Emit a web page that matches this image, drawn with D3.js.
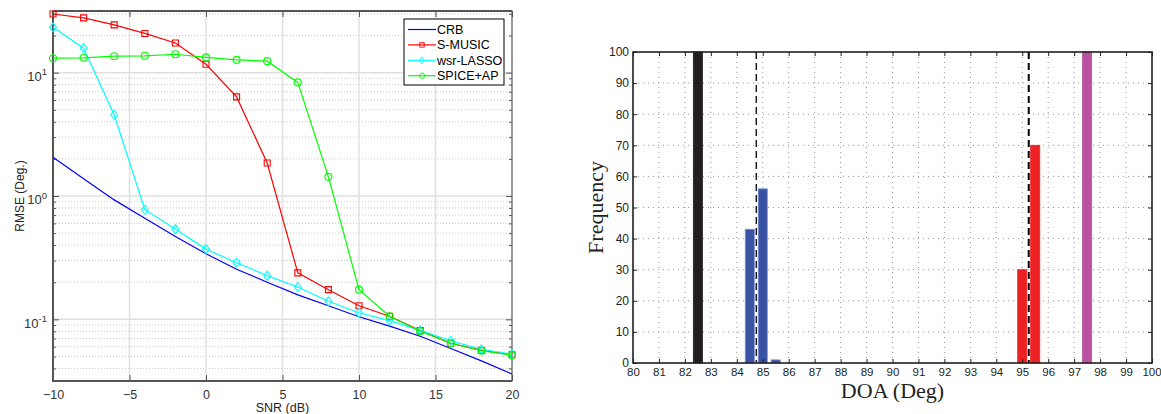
<!DOCTYPE html>
<html>
<head>
<meta charset="utf-8">
<script src="https://cdn.jsdelivr.net/npm/d3@7"></script>
<style>
body { margin: 0; background: #fff; }
svg { display: block; }
</style>
</head>
<body>
<div id="canvas"></div>
<script>
// DATA ========================================================================

var SNR = [-10, -8, -6, -4, -2, 0, 2, 4, 6, 8, 10, 12, 14, 16, 18, 20]

var CRB = [2.06, 1.38, 0.93, 0.66, 0.47, 0.34, 0.255, 0.2, 0.158, 0.129, 0.105, 0.088, 0.073, 0.058, 0.046, 0.036]

var S_MUSIC = [29.9, 27.8, 24.4, 20.8, 17.4, 11.7, 6.36, 1.85, 0.238, 0.174, 0.129, 0.106, 0.081, 0.064, 0.056, 0.0516]

var WSR_LASSO = [23.3, 15.8, 4.54, 0.774, 0.539, 0.371, 0.288, 0.226, 0.183, 0.140, 0.113, 0.0975, 0.0813, 0.067, 0.057, 0.0523]

var SPICE_AP = [13.1, 13.2, 13.6, 13.7, 14.1, 13.3, 12.7, 12.4, 8.34, 1.43, 0.174, 0.106, 0.080, 0.064, 0.0556, 0.0513]

var SERIES_NAMES = ["CRB", "S-MUSIC", "wsr-LASSO", "SPICE+AP"]

var SNR_TICKS = [-10, -5, 0, 5, 10, 15, 20]

var DOA_TICKS = d3.range(80, 101)

var FREQ_TICKS = [0, 10, 20, 30, 40, 50, 60, 70, 80, 90, 100]

var BAR_DOA = [82.5, 84.5, 85, 85.5, 95, 95.5, 97.5]

var BAR_FREQ = [100, 43, 56, 1, 30, 70, 100]

var BAR_GROUP = ["g0", "g1", "g1", "g1", "g2", "g2", "g3"]

var TRUE_DOA = [84.75, 95.25]

// STYLE =======================================================================

var SANS = "'Liberation Sans', Arial, sans-serif"
var SERIF = "'Liberation Serif', 'Times New Roman', serif"

var LINE_COLORS = ["#0000ff", "#ff0000", "#00ffff", "#00ff00"]
var MARKERS = [null, "square", "diamond", "circle"]

var BAR_COLORS = { "g0": "#231f20", "g1": "#3953a4", "g2": "#ed2024", "g3": "#b9529f" }
var BAR_EDGES = { "g0": "#231f20", "g1": "#7d90cf", "g2": "#ed2024", "g3": "#b9529f" }

// -----------------------------------------------------------------------------

var svg = d3.select("#canvas").append("svg")
    .attr("width", 1161)
    .attr("height", 414)

function translate(x, y) {
    return "translate(" + x + "," + y + ")"
}

function marker(type) {
    if (type === "square") { return "M-3,-3H3V3H-3Z" }
    if (type === "diamond") { return "M0,-4.5L3.5,0L0,4.5L-3.5,0Z" }
    if (type === "circle") { return "M3.5,0A3.5,3.5 0 1,1 -3.5,0A3.5,3.5 0 1,1 3.5,0Z" }
    return null
}

// LEFT PANEL: RMSE vs SNR =====================================================

function drawLeft() {
    let L = { left: 53, right: 512, top: 11, bottom: 381 }
    let x = d3.scaleLinear().domain([-10, 20]).range([L.left, L.right])
    let y = d3.scaleLog().domain([Math.pow(10, -1.5), Math.pow(10, 1.5)]).range([L.bottom, L.top])

    let g = svg.append("g")

    let majors = [0.1, 1, 10]
    let minors = []
    for (let d = -2; d <= 1; d++) {
        for (let m = 2; m <= 9; m++) {
            let v = m*Math.pow(10, d)
            if (v >= y.domain()[0] && v <= y.domain()[1]) { minors.push(v) }
        }
    }

    // Grid.
    g.append("g").selectAll("line")
        .data(minors).enter().append("line")
            .attr("x1", L.left).attr("x2", L.right)
            .attr("y1", d => y(d)).attr("y2", d => y(d))
            .attr("stroke", "#c8c8c8")
            .attr("stroke-width", 1)
            .attr("stroke-dasharray", "1,2")

    g.append("g").selectAll("line")
        .data(majors).enter().append("line")
            .attr("x1", L.left).attr("x2", L.right)
            .attr("y1", d => y(d)).attr("y2", d => y(d))
            .attr("stroke", "#e0e0e0")
            .attr("stroke-width", 1.5)

    g.append("g").selectAll("line")
        .data(SNR_TICKS.slice(1, -1)).enter().append("line")
            .attr("x1", d => x(d)).attr("x2", d => x(d))
            .attr("y1", L.top).attr("y2", L.bottom)
            .attr("stroke", "#e0e0e0")
            .attr("stroke-width", 1.5)

    // Axes with inward ticks.
    let axisColor = "#555"
    let styleAxis = function(a) {
        a.select(".domain").remove()
        a.selectAll(".tick line").attr("stroke", axisColor).attr("stroke-width", 1)
        a.selectAll(".tick text")
            .attr("fill", "#333")
            .attr("font-family", SANS)
            .attr("font-size", "12.5px")
    }

    g.append("g")
        .attr("transform", translate(0, L.bottom))
        .call(d3.axisBottom(x).tickValues(SNR_TICKS).tickSize(-6).tickPadding(9).tickFormat(d3.format("d")))
        .call(styleAxis)

    g.append("g")
        .attr("transform", translate(0, L.top))
        .call(d3.axisTop(x).tickValues(SNR_TICKS).tickSize(-6).tickFormat(""))
        .call(styleAxis)

    g.append("g")
        .attr("transform", translate(L.left, 0))
        .call(d3.axisLeft(y).tickValues(minors).tickSize(-3).tickFormat(""))
        .call(styleAxis)

    g.append("g")
        .attr("transform", translate(L.right, 0))
        .call(d3.axisRight(y).tickValues(minors).tickSize(-3).tickFormat(""))
        .call(styleAxis)

    g.append("g")
        .attr("transform", translate(L.right, 0))
        .call(d3.axisRight(y).tickValues(majors).tickSize(-6).tickFormat(""))
        .call(styleAxis)

    g.append("g")
        .attr("transform", translate(L.left, 0))
        .call(d3.axisLeft(y).tickValues(majors).tickSize(-6).tickPadding(6).tickFormat(""))
        .call(styleAxis)
        .selectAll(".tick text")
            .attr("dy", "0.6em")
            .attr("font-size", "13px")
            .each(function(d) {
                let t = d3.select(this)
                t.append("tspan").text("10")
                t.append("tspan")
                    .attr("dy", "-0.6em")
                    .attr("font-size", "9.5px")
                    .text(Math.round(Math.log10(d)))
            })

    // Frame.
    g.append("rect")
        .attr("x", L.left).attr("y", L.top)
        .attr("width", L.right - L.left).attr("height", L.bottom - L.top)
        .attr("fill", "none")
        .attr("stroke", axisColor)
        .attr("stroke-width", 1.2)
    g.append("line")
        .attr("x1", L.left).attr("x2", L.left)
        .attr("y1", L.top).attr("y2", L.bottom + 1)
        .attr("stroke", axisColor).attr("stroke-width", 2)
    g.append("line")
        .attr("x1", L.left).attr("x2", L.right)
        .attr("y1", L.bottom).attr("y2", L.bottom)
        .attr("stroke", axisColor).attr("stroke-width", 2)
    g.append("line")
        .attr("x1", L.left).attr("x2", L.right)
        .attr("y1", L.top).attr("y2", L.top)
        .attr("stroke", axisColor).attr("stroke-width", 2)

    // Series.
    let series = [CRB, S_MUSIC, WSR_LASSO, SPICE_AP]
    let line = d3.line().x((d, i) => x(SNR[i])).y(d => y(d))

    series.forEach(function(s, k) {
        let sg = g.append("g")
        sg.append("path")
            .attr("d", line(s))
            .attr("fill", "none")
            .attr("stroke", LINE_COLORS[k])
            .attr("stroke-width", 1.2)
        if (MARKERS[k]) {
            sg.selectAll("path.m")
                .data(s).enter().append("path")
                    .attr("class", "m")
                    .attr("d", marker(MARKERS[k]))
                    .attr("transform", (d, i) => translate(x(SNR[i]), y(d)))
                    .attr("fill", "none")
                    .attr("stroke", LINE_COLORS[k])
                    .attr("stroke-width", 1.1)
        }
    })

    // Legend.
    let lg = g.append("g")
    lg.append("rect")
        .attr("x", 404).attr("y", 19)
        .attr("width", 100).attr("height", 66)
        .attr("fill", "#fff")
        .attr("stroke", "#000")
        .attr("stroke-width", 1)

    SERIES_NAMES.forEach(function(name, k) {
        let yy = 29.5 + k*15.4
        lg.append("line")
            .attr("x1", 408).attr("x2", 436)
            .attr("y1", yy).attr("y2", yy)
            .attr("stroke", LINE_COLORS[k])
            .attr("stroke-width", 1.2)
        if (MARKERS[k]) {
            lg.append("path")
                .attr("d", marker(MARKERS[k]))
                .attr("transform", translate(422, yy) + " scale(0.75)")
                .attr("fill", "none")
                .attr("stroke", LINE_COLORS[k])
                .attr("stroke-width", 1.2)
        }
        lg.append("text")
            .attr("x", 437).attr("y", yy)
            .attr("dy", "0.36em")
            .attr("fill", "#000")
            .attr("font-family", SANS)
            .attr("font-size", "12.5px")
            .text(name)
    })

    // Labels.
    g.append("text")
        .attr("x", (L.left + L.right)/2).attr("y", 412)
        .attr("text-anchor", "middle")
        .attr("fill", "#222")
        .attr("font-family", SANS)
        .attr("font-size", "12.5px")
        .text("SNR (dB)")

    g.append("text")
        .attr("transform", translate(24, 196) + " rotate(-90)")
        .attr("text-anchor", "middle")
        .attr("fill", "#222")
        .attr("font-family", SANS)
        .attr("font-size", "12px")
        .text("RMSE (Deg.)")
}

// RIGHT PANEL: DOA HISTOGRAM ==================================================

function drawRight() {
    let R = { left: 633, right: 1152, top: 52, bottom: 363 }
    let x = d3.scaleLinear().domain([80, 100]).range([R.left, R.right])
    let y = d3.scaleLinear().domain([0, 100]).range([R.bottom, R.top])

    let g = svg.append("g")
    let ink = "#231f20"

    // Dotted grid.
    g.append("g").selectAll("line")
        .data(DOA_TICKS.slice(1, -1)).enter().append("line")
            .attr("x1", d => x(d)).attr("x2", d => x(d))
            .attr("y1", R.top).attr("y2", R.bottom)
            .attr("stroke", "#8a8a8a")
            .attr("stroke-width", 0.9)
            .attr("stroke-dasharray", "1,4")

    g.append("g").selectAll("line")
        .data(FREQ_TICKS.slice(1, -1)).enter().append("line")
            .attr("x1", R.left).attr("x2", R.right)
            .attr("y1", d => y(d)).attr("y2", d => y(d))
            .attr("stroke", "#8a8a8a")
            .attr("stroke-width", 0.9)
            .attr("stroke-dasharray", "1,4")

    // Bars.
    let bw = x(80.35) - x(80)
    g.append("g").selectAll("rect")
        .data(BAR_DOA).enter().append("rect")
            .attr("x", d => x(d) - bw/2)
            .attr("y", (d, i) => y(BAR_FREQ[i]))
            .attr("width", bw)
            .attr("height", (d, i) => y(0) - y(BAR_FREQ[i]))
            .attr("fill", (d, i) => BAR_COLORS[BAR_GROUP[i]])
            .attr("stroke", (d, i) => BAR_EDGES[BAR_GROUP[i]])
            .attr("stroke-width", 0.8)

    // True directions.
    g.append("g").selectAll("line")
        .data(TRUE_DOA).enter().append("line")
            .attr("x1", d => x(d)).attr("x2", d => x(d))
            .attr("y1", R.top).attr("y2", R.bottom)
            .attr("stroke", "#000")
            .attr("stroke-width", (d, i) => i == 0 ? 1.3 : 2)
            .attr("stroke-dasharray", "7,4")

    // Axes with inward ticks.
    let styleAxis = function(a) {
        a.select(".domain").remove()
        a.selectAll(".tick line").attr("stroke", ink).attr("stroke-width", 1)
        a.selectAll(".tick text")
            .attr("fill", ink)
            .attr("font-family", SANS)
            .attr("font-size", "12px")
    }

    g.append("g")
        .attr("transform", translate(0, R.bottom))
        .call(d3.axisBottom(x).tickValues(DOA_TICKS).tickSize(-4).tickPadding(5).tickFormat(d3.format("d")))
        .call(styleAxis)
        .selectAll(".tick text")
            .attr("font-size", "11.5px")
            .attr("dx", d => d == 100 ? "-0.5" : null)

    g.append("g")
        .attr("transform", translate(0, R.top))
        .call(d3.axisTop(x).tickValues(DOA_TICKS).tickSize(-4).tickFormat(""))
        .call(styleAxis)

    g.append("g")
        .attr("transform", translate(R.left, 0))
        .call(d3.axisLeft(y).tickValues(FREQ_TICKS).tickSize(-4).tickPadding(4).tickFormat(d3.format("d")))
        .call(styleAxis)

    g.append("g")
        .attr("transform", translate(R.right, 0))
        .call(d3.axisRight(y).tickValues(FREQ_TICKS).tickSize(-4).tickFormat(""))
        .call(styleAxis)

    g.append("rect")
        .attr("x", R.left).attr("y", R.top)
        .attr("width", R.right - R.left).attr("height", R.bottom - R.top)
        .attr("fill", "none")
        .attr("stroke", ink)
        .attr("stroke-width", 1.6)

    // Labels.
    g.append("text")
        .attr("x", (R.left + R.right)/2).attr("y", 398)
        .attr("text-anchor", "middle")
        .attr("fill", ink)
        .attr("font-family", SERIF)
        .attr("font-size", "22px")
        .text("DOA (Deg)")

    g.append("text")
        .attr("transform", translate(603, (R.top + R.bottom)/2) + " rotate(-90)")
        .attr("text-anchor", "middle")
        .attr("fill", ink)
        .attr("font-family", SERIF)
        .attr("font-size", "22px")
        .text("Frequency")
}

drawLeft()
drawRight()
</script>
</body>
</html>
